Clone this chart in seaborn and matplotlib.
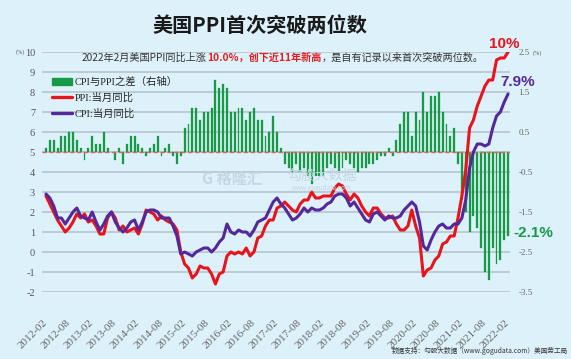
import numpy as np
import pandas as pd
import matplotlib
matplotlib.use("Agg")
import matplotlib.pyplot as plt
import seaborn as sns
from matplotlib.patches import Patch
from matplotlib.lines import Line2D

# 数据：2012-02 ~ 2022-02 月度同比 (%)
months = pd.period_range("2012-02", "2022-02", freq="M").strftime("%Y-%m").tolist()

cpi = [2.9, 2.7, 2.3, 1.7, 1.7, 1.4, 1.7, 2.0, 2.2, 1.8, 1.7,
       1.6, 2.0, 1.5, 1.1, 1.4, 1.8, 2.0, 1.5, 1.2, 1.0, 1.2, 1.5,
       1.6, 1.1, 1.5, 2.0, 2.1, 2.1, 2.0, 1.7, 1.7, 1.7, 1.3, 0.8,
       -0.1, 0.0, -0.1, -0.2, 0.0, 0.1, 0.2, 0.2, 0.0, 0.2, 0.5, 0.7,
       1.4, 1.0, 0.9, 1.1, 1.0, 1.0, 0.8, 1.1, 1.5, 1.6, 1.7, 2.1,
       2.5, 2.7, 2.4, 2.2, 1.9, 1.6, 1.7, 1.9, 2.2, 2.0, 2.2, 2.1,
       2.1, 2.2, 2.4, 2.5, 2.8, 2.9, 2.9, 2.7, 2.3, 2.5, 2.2, 1.9,
       1.6, 1.5, 1.9, 2.0, 1.8, 1.6, 1.8, 1.7, 1.7, 1.8, 2.1, 2.3,
       2.5, 2.3, 1.5, 0.3, 0.1, 0.6, 1.0, 1.3, 1.4, 1.2, 1.2, 1.4,
       1.4, 1.7, 2.6, 4.2, 5.0, 5.4, 5.4, 5.3, 5.4, 6.2, 6.8, 7.0,
       7.5, 7.9]

ppi = [2.8, 2.4, 2.0, 1.6, 1.3, 1.0, 1.2, 1.5, 1.9, 1.7, 1.9,
       1.5, 1.6, 1.3, 0.9, 0.9, 1.7, 2.0, 1.7, 1.1, 1.3, 1.0, 1.1,
       1.2, 0.9, 1.4, 2.1, 2.0, 1.9, 1.6, 1.8, 1.6, 1.5, 1.4, 1.1,
       0.0, -0.6, -0.8, -1.3, -1.1, -0.7, -0.8, -0.8, -1.1, -1.6, -1.1, -1.0,
       -0.2, 0.0, -0.1, 0.0, -0.1, 0.2, -0.2, 0.0, 0.7, 0.8, 1.3, 1.6,
       1.6, 2.2, 2.3, 2.5, 2.3, 2.1, 2.0, 2.4, 2.6, 2.6, 3.0, 2.7,
       2.7, 2.8, 2.8, 2.8, 3.2, 3.4, 3.3, 2.9, 2.6, 2.9, 2.7, 2.3,
       2.0, 1.8, 2.2, 2.2, 1.9, 1.7, 1.7, 1.8, 1.4, 1.1, 1.1, 1.3,
       2.1, 1.3, 0.7, -1.2, -0.9, -0.8, -0.4, -0.2, 0.4, 0.5, 0.8, 0.8,
       1.7, 2.8, 4.1, 6.2, 6.6, 7.3, 7.8, 8.3, 8.6, 8.6, 9.6, 9.7,
       9.7, 10.0]

# CPI与PPI之差（右轴）
gap = [0.1, 0.3, 0.3, 0.1, 0.4, 0.4, 0.5, 0.5, 0.3, 0.1, -0.2,
       0.1, 0.4, 0.2, 0.2, 0.5, 0.1, 0.0, -0.2, 0.1, -0.3, 0.2, 0.4,
       0.4, 0.2, 0.1, -0.1, 0.1, 0.2, 0.4, -0.1, 0.1, 0.2, -0.1, -0.3,
       -0.1, 0.6, 0.7, 1.1, 1.1, 0.8, 1.0, 1.0, 1.1, 1.8, 1.6, 1.7,
       1.6, 1.0, 1.0, 1.1, 1.1, 0.8, 1.0, 1.1, 0.8, 0.8, 0.4, 0.5,
       0.9, 0.5, 0.1, -0.3, -0.4, -0.5, -0.3, -0.5, -0.4, -0.6, -0.8, -0.6,
       -0.6, -0.6, -0.4, -0.3, -0.4, -0.5, -0.4, -0.2, -0.3, -0.4, -0.5, -0.4,
       -0.4, -0.3, -0.3, -0.2, -0.1, -0.1, 0.1, -0.1, 0.3, 0.7, 1.0, 1.0,
       0.4, 1.0, 0.8, 1.5, 1.0, 1.4, 1.4, 1.5, 1.0, 0.7, 0.4, 0.6,
       -0.3, -1.1, -1.5, -2.0, -1.6, -1.9, -2.4, -3.0, -3.2, -2.4, -2.8, -2.7,
       -2.2, -2.1]

idx = np.arange(len(months))

bg = "#ddf1fb"
red = "#e8141c"
purple = "#55289a"
green = "#179a45"
grid_c = "#b9c7d0"

sns.set_style("white")
plt.rcParams["font.family"] = ["Noto Sans CJK SC", "DejaVu Sans"]

W, H = 571, 359
fig = plt.figure(figsize=(W / 100, H / 100), dpi=100, facecolor=bg)
ax = fig.add_axes([42 / W, 1 - 292 / H, 468 / W, 240 / H])
ax2 = ax.twinx()
ax.set_zorder(2)
ax.patch.set_visible(False)
ax2.set_zorder(1)
ax2.patch.set_visible(True)
ax2.set_facecolor(bg)

# 柱：差值（右轴）
sns.barplot(x=idx, y=gap, native_scale=True, width=0.5, color=green,
            saturation=1, errorbar=None, edgecolor=green, linewidth=0.2, ax=ax2)
ax2.axhline(0, color="#e0645c", lw=1.0, ls=(0, (3, 2)), zorder=3)

# 线：PPI / CPI（左轴）
sns.lineplot(x=idx, y=ppi, color=red, linewidth=2.2, ax=ax, legend=False)
sns.lineplot(x=idx, y=cpi, color=purple, linewidth=2.2, ax=ax, legend=False)

ax.set_xlim(-1.04, 120.5)
ax.set_ylim(-2, 10)
ax2.set_ylim(-3.5, 2.5)

for a in (ax, ax2):
    for s in a.spines.values():
        s.set_visible(False)
    a.set_xlabel("")
    a.set_ylabel("")
    a.tick_params(length=0)

ax.grid(False)
r_ticks = np.arange(-3.5, 2.51, 0.5)
ax2.set_yticks(r_ticks)
ax2.set_yticklabels([f"{t:.1f}" if abs(t * 2) % 2 == 1 else "" for t in r_ticks],
                    fontfamily="Liberation Serif", fontsize=6.5, color="#666666")
ax2.tick_params(axis="y", pad=6)
ax2.grid(axis="y", color=grid_c, lw=1.3)
ax2.set_axisbelow(True)

ax.set_yticks(range(-2, 11))
ax.set_yticklabels([str(v) for v in range(-2, 11)], fontfamily="Liberation Serif",
                   fontsize=7.5, color="#555555")
ax.tick_params(axis="y", pad=5)

ax.set_xticks(idx[::6])
ax.set_xticklabels(months[::6], rotation=45, ha="right", va="center",
                   rotation_mode="anchor", fontfamily="Liberation Serif",
                   fontsize=8, color="#666666")
ax.tick_params(axis="x", pad=21)

fig.text(20 / W, 1 - 52 / H, "(%)", fontsize=4.5, color="#666666",
         ha="center", va="center", fontfamily="Liberation Serif")
fig.text(537 / W, 1 - 53 / H, "(%)", fontsize=4.5, color="#666666",
         ha="center", va="center", fontfamily="Liberation Serif")

# 图例
handles = [Patch(facecolor=green, edgecolor=green),
           Line2D([0], [0], color=red, lw=2.4),
           Line2D([0], [0], color=purple, lw=2.4)]
labels = ["CPI与PPI之差（右轴）", "PPI:当月同比", "CPI:当月同比"]
ax.legend(handles, labels, loc="upper left", frameon=False,
          bbox_to_anchor=(52 / W, 1 - 77 / H), bbox_transform=fig.transFigure,
          borderaxespad=0, borderpad=0, handlelength=1.9, handleheight=0.6,
          handletextpad=0.25, labelspacing=0.55,
          prop={"family": ["Liberation Serif", "Noto Sans CJK SC"], "size": 7.5})

# 标题
fig.text(260 / W, 1 - 25 / H, "美国PPI首次突破两位数", fontsize=14.5,
         fontweight="bold", color="#1a1a1a", ha="center", va="center")

# 副标题（分段着色）
parts = [("2022年2月美国PPI同比上涨", "#333333", "normal"),
         ("10.0%，创下近11年新高", "#e01e1e", "bold"),
         ("，是自有记录以来首次突破两位数。", "#333333", "normal")]
renderer = fig.canvas.get_renderer()
x0 = 82
for txt, col, fw in parts:
    t = fig.text(x0 / W, 1 - 58 / H, txt, fontsize=7.3, color=col,
                 fontweight=fw, ha="left", va="center")
    bb = t.get_window_extent(renderer=renderer)
    x0 = bb.x1

# 末值标注
ax.annotate("10%", xy=(idx[-1], ppi[-1]), xytext=(-3, 1), textcoords="offset points",
            ha="center", va="bottom", color=red, fontsize=11, fontweight="bold",
            fontfamily="Liberation Sans")
ax.annotate("7.9%", xy=(idx[-1], cpi[-1]), xytext=(7, 9), textcoords="offset points",
            ha="center", va="center", color=purple, fontsize=11, fontweight="bold",
            fontfamily="Liberation Sans")
ax2.annotate("-2.1%", xy=(idx[-1], gap[-1]), xytext=(18, 2), textcoords="offset points",
             ha="center", va="center", color=green, fontsize=11, fontweight="bold",
             fontfamily="Liberation Sans")

# 水印
fig.text(232 / W, 1 - 179 / H, "G 格隆汇", fontsize=11, color="#c3d6e2",
         ha="center", va="center", fontweight="bold")
fig.text(322 / W, 1 - 176 / H, "勾股大数据", fontsize=10, color="#c3d6e2",
         ha="center", va="center")
fig.text(322 / W, 1 - 188 / H, "www.gogudata.com", fontsize=4.5, color="#c3d6e2",
         ha="center", va="center")

# 数据来源
fig.text(568 / W, 1 - 351 / H, "数据支持：勾股大数据（www.gogudata.com）美国劳工局",
         fontsize=4.8, color="#333333", ha="right", va="center")

fig.savefig("out.png", dpi=100, facecolor=bg)
